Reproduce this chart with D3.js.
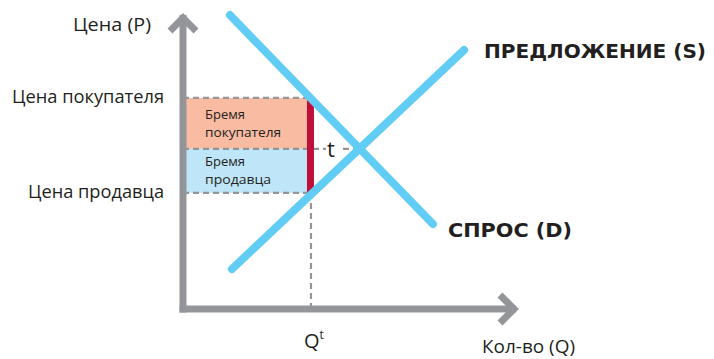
<!DOCTYPE html>
<html><head><meta charset="utf-8">
<script src="https://cdn.jsdelivr.net/npm/d3@7"></script>
<style>body{margin:0;background:#fff}svg{display:block}</style>
</head><body>
<script>
// Data (model units 0..100)
const demandLine = [[14.0, 99.3], [74.6, 28.7]];
const supplyLine = [[14.6, 13.5], [83.9, 87.5]];
const buyerPrice = 71.3;
const sellerPrice = 39.2;
const midPrice = 54.1;
const equilibriumX = 52.0;
const quantityT = 38.2;
const priceLabels = ["Цена покупателя", "Цена продавца"];
const burdenLabels = [["Бремя", "покупателя"], ["Бремя", "продавца"]];
const curveLabels = ["предложение (s)", "спрос (D)"];
const axisLabels = ["Цена (P)", "Кол-во (Q)"];

const W = 714, H = 359;
const svg = d3.select("body").append("svg").attr("width", W).attr("height", H);
const x = d3.scaleLinear().domain([0, 100]).range([183, 518]);
const y = d3.scaleLinear().domain([0, 100]).range([309, 13]);

const gray = "#939598", blue = "#62cdf4", font = "'Open Sans', sans-serif";

// fills
svg.append("rect").attr("x", x(0)).attr("y", y(buyerPrice))
  .attr("width", x(quantityT) - x(0)).attr("height", y(midPrice) - y(buyerPrice)).attr("fill", "#f9bba2");
svg.append("rect").attr("x", x(0)).attr("y", y(midPrice))
  .attr("width", x(quantityT) - x(0)).attr("height", y(sellerPrice) - y(midPrice)).attr("fill", "#bfe6f8");

// dashed lines
const dash = (x1, y1, x2, y2) => svg.append("line").attr("x1", x1).attr("y1", y1).attr("x2", x2).attr("y2", y2)
  .attr("stroke", gray).attr("stroke-width", 2.2).attr("stroke-dasharray", "6,4");
dash(x(0), y(buyerPrice), x(quantityT), y(buyerPrice));
dash(x(0), y(midPrice), x(equilibriumX), y(midPrice));
dash(x(0), y(sellerPrice), x(quantityT), y(sellerPrice));
dash(x(quantityT), y(sellerPrice), x(quantityT), y(0));

// red tax bar
svg.append("rect").attr("x", x(quantityT) - 4).attr("y", y(buyerPrice))
  .attr("width", 7).attr("height", y(sellerPrice) - y(buyerPrice)).attr("fill", "#c0103a");

// white box behind t
svg.append("rect").attr("x", 326).attr("y", y(midPrice) - 9).attr("width", 14).attr("height", 18).attr("fill", "#fff");

// curves
const line = d3.line().x(d => x(d[0])).y(d => y(d[1]));
[demandLine, supplyLine].forEach(d => svg.append("path").attr("d", line(d))
  .attr("stroke", blue).attr("stroke-width", 8).attr("stroke-linecap", "round").attr("fill", "none"));

// axes
svg.append("line").attr("x1", x(0)).attr("y1", y(0) + 3.5).attr("x2", x(0)).attr("y2", y(100) + 2)
  .attr("stroke", gray).attr("stroke-width", 7);
svg.append("line").attr("x1", x(0) - 3.5).attr("y1", y(0)).attr("x2", x(100) - 2).attr("y2", y(0))
  .attr("stroke", gray).attr("stroke-width", 7);
svg.append("path").attr("d", `M${x(0)-13},${y(100)+18} L${x(0)},${y(100)+5} L${x(0)+13},${y(100)+18}`)
  .attr("stroke", gray).attr("stroke-width", 7).attr("fill", "none");
svg.append("path").attr("d", `M${x(100)-18},${y(0)-14} L${x(100)-4},${y(0)} L${x(100)-18},${y(0)+14}`)
  .attr("stroke", gray).attr("stroke-width", 7).attr("fill", "none");

// text
const txt = (t, tx, ty, opts = {}) => {
  const s = svg.append("text").attr("x", tx).attr("y", ty)
    .attr("font-family", opts.family || font).attr("font-size", opts.size || 18)
    .attr("font-weight", opts.weight || 400)
    .attr("text-anchor", opts.anchor || "start").attr("fill", opts.fill || "#231f20").text(t);
  if (opts.len) s.attr("textLength", opts.len).attr("lengthAdjust", "spacingAndGlyphs");
  return s;
};

txt(axisLabels[0], 73, 31, {len: 78});
txt(priceLabels[0], 12, 103, {len: 152});
txt(priceLabels[1], 28, 198, {len: 136});
txt(axisLabels[1], 482, 353, {len: 93});
const q = txt("Q", 304, 348, {size: 20});
q.append("tspan").attr("font-size", 12).attr("dy", -9).text("t");
txt("t", 327, 157, {size: 22});

txt(burdenLabels[0][0], 205, 119, {size: 13});
txt(burdenLabels[0][1], 205, 137, {size: 13, len: 76});
txt(burdenLabels[1][0], 205, 166, {size: 13});
txt(burdenLabels[1][1], 205, 184, {size: 13, len: 66});

txt(curveLabels[0], 484, 58, {size: 20, weight: 700, len: 222, family: "'DejaVu Sans', sans-serif"}).style("text-transform", "uppercase");
txt(curveLabels[1], 448, 237, {size: 20, weight: 700, len: 124, family: "'DejaVu Sans', sans-serif"}).style("text-transform", "uppercase");
</script>
</body></html>
